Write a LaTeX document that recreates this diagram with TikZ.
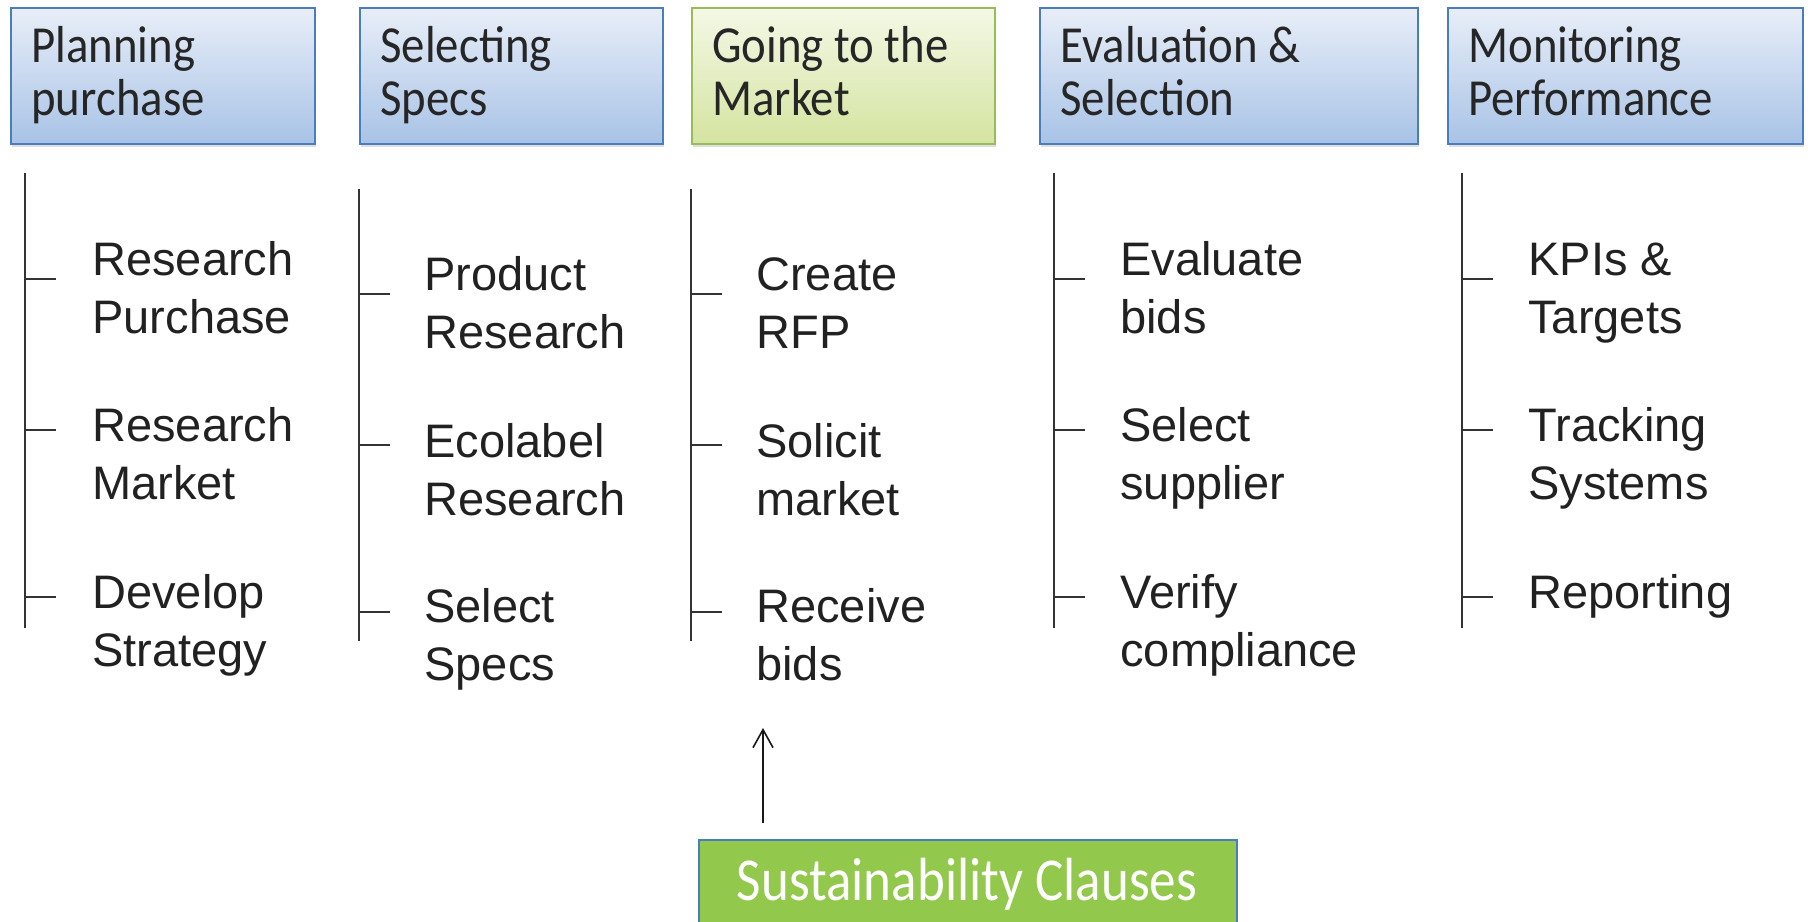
\documentclass[tikz,border=0pt]{standalone}
\usepackage{fontspec}
\setmainfont{Liberation Sans}
\newfontfamily\hdfont[FakeStretch=0.9]{Carlito}
\newfontfamily\scfont[FakeStretch=0.87]{Carlito}
\usetikzlibrary{arrows.meta,shadows}
\definecolor{hblue}{HTML}{4A7EBB}
\definecolor{htop}{HTML}{E8EEF8}
\definecolor{hbot}{HTML}{A8C3E6}
\definecolor{ggreen}{HTML}{9BBB59}
\definecolor{gtop}{HTML}{F4F8E6}
\definecolor{gbot}{HTML}{D4E4A0}
\definecolor{scfill}{HTML}{92C84B}
\newcommand{\fs}{\rule{0pt}{20pt}}
\begin{document}
\begin{tikzpicture}[x=0.5pt,y=-0.5pt,
  hbox/.style={draw=hblue, line width=1pt, top color=htop, bottom color=hbot,
    anchor=north west, minimum height=68pt, inner sep=0pt,
    drop shadow={opacity=0.25, shadow xshift=0.6pt, shadow yshift=-1.6pt}},
  gbox/.style={hbox, draw=ggreen, top color=gtop, bottom color=gbot},
  htext/.style={anchor=north west, inner sep=0pt, align=left,
    font=\hdfont\fontsize{26pt}{26.5pt}\selectfont, text=black!85},
  itext/.style={anchor=north west, inner sep=0pt, align=left,
    font=\fontsize{23.5pt}{29pt}\selectfont, text=black!87},
  brk/.style={draw=black!80, line width=0.8pt},
  scbox/.style={draw=hblue, line width=1pt, fill=scfill, anchor=north west,
    minimum width=269pt, minimum height=60pt, inner sep=0pt,
    drop shadow={opacity=0.25, shadow xshift=0.6pt, shadow yshift=-1.6pt}},
  sctext/.style={anchor=base, inner sep=0pt, text=white,
    font=\scfont\fontsize{30.5pt}{36pt}\selectfont},
  arr/.style={draw=black!90, line width=0.8pt, -{Straight Barb[length=9pt,width=10pt]}}
]
\useasboundingbox (0,0) rectangle (1808,921);
\fill[white] (0,0) rectangle (1808,921);

% header boxes
\node[hbox, minimum width=152pt]   (h1) at (10,7)   {};
\node[hbox, minimum width=151.5pt] (h2) at (359,7)  {};
\node[gbox, minimum width=151.5pt] (h3) at (691,7)  {};
\node[hbox, minimum width=189pt]   (h4) at (1039,7) {};
\node[hbox, minimum width=177.5pt] (h5) at (1447,7) {};

\node[htext] (h1t) at (31,22)   {\fs Planning\\purchase};
\node[htext] (h2t) at (380,22)  {\fs Selecting\\Specs};
\node[htext] (h3t) at (712,22)  {\fs Going to the\\Market};
\node[htext] (h4t) at (1060,22) {\fs Evaluation \&\\Selection};
\node[htext] (h5t) at (1468,22) {\fs Monitoring\\Performance};

% item texts
\node[itext] (a1) at (92,235) {\fs Research\\Purchase};
\node[itext] (a2) at (92,401) {\fs Research\\Market};
\node[itext] (a3) at (92,568) {\fs Develop\\Strategy};

\node[itext] (b1) at (424,250) {\fs Product\\Research};
\node[itext] (b2) at (424,417) {\fs Ecolabel\\Research};
\node[itext] (b3) at (424,582) {\fs Select\\Specs};

\node[itext] (c1) at (756,250) {\fs Create\\RFP};
\node[itext] (c2) at (756,417) {\fs Solicit\\market};
\node[itext] (c3) at (756,582) {\fs Receive\\bids};

\node[itext] (d1) at (1120,235) {\fs Evaluate\\bids};
\node[itext] (d2) at (1120,401) {\fs Select\\supplier};
\node[itext] (d3) at (1120,568) {\fs Verify\\compliance};

\node[itext] (e1) at (1528,235) {\fs KPIs \&\\Targets};
\node[itext] (e2) at (1528,401) {\fs Tracking\\Systems};
\node[itext] (e3) at (1528,568) {\fs Reporting};

% brackets
\foreach \n/\x/\t/\b/\ya/\yb/\yc in {a/25/173/628/279/430/597, b/359/189/641/294/445/612,
    c/691/189/641/294/445/612, d/1054/173/628/279/430/597, e/1462/173/628/279/430/597}{
  \coordinate (\n top) at (\x,\t);
  \coordinate (\n bot) at (\x,\b);
  \draw[brk] (\n top) -- (\n bot);
  \foreach \y [count=\i] in {\ya,\yb,\yc}{
    \coordinate (\n t\i) at (\x,\y);
    \draw[brk] (\n t\i) -- ++(31,0);
  }
}

% sustainability clauses
\node[scbox] (sc) at (698,839) {};
\node[sctext] (sct) at (967,900) {Sustainability Clauses};
\coordinate (arrS) at (763,823);
\coordinate (arrE) at (763,728);
\draw[arr] (arrS) -- (arrE);
\end{tikzpicture}
\end{document}
